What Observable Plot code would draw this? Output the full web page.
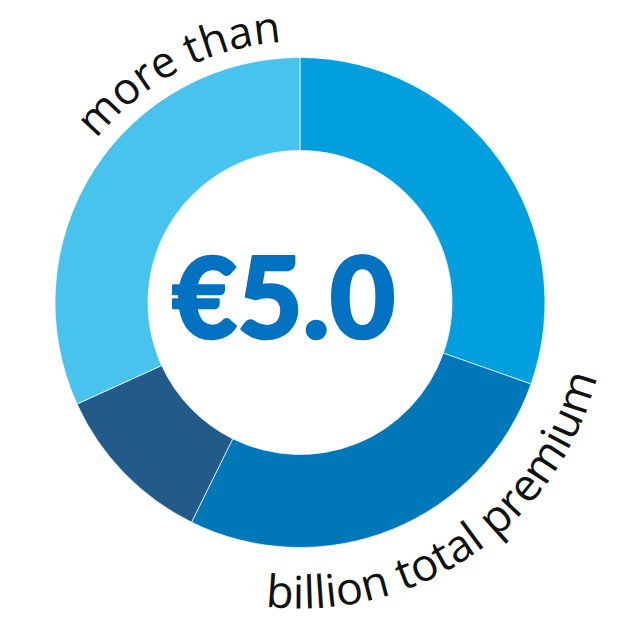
<!DOCTYPE html>
<html>
<head>
<meta charset="utf-8">
<script src="https://cdn.jsdelivr.net/npm/d3@7"></script>
<script src="https://cdn.jsdelivr.net/npm/@observablehq/plot@0.6"></script>
<style>
  html, body { margin: 0; padding: 0; background: #ffffff; }
  #chart { width: 620px; height: 617px; }
</style>
</head>
<body>
<div id="chart"></div>
<script>
// ---- data ----
const segments = ["Segment 1", "Segment 2", "Segment 3", "Segment 4"];
const shares = [30.4, 26.9, 10.9, 31.8];
const segmentColors = ["#029fdf", "#0077b9", "#225b8a", "#48c3ee"];
const centerLabel = ["€5.0"];
const topLabel = ["more than"];
const bottomLabel = ["billion total premium"];

// ---- layout (1 data unit = 1 px) ----
const INNER = 152, OUTER = 245;
const TOP_R = 261, BOTTOM_R = 306;

const data = segments.map((segment, i) => ({segment, share: shares[i]}));
const deg = Math.PI / 180;

function donutMark(index, scales) {
  const {x, y} = scales;
  const color = scales.color || (d => segmentColors[segments.indexOf(d)]);
  const cx = x(0), cy = y(0);
  const r0 = Math.abs(x(INNER) - x(0)), r1 = Math.abs(x(OUTER) - x(0));
  const arcs = d3.pie().sort(null).value(d => d.share)(data);
  const arc = d3.arc().innerRadius(r0).outerRadius(r1);
  const g = d3.create("svg:g").attr("transform", `translate(${cx},${cy})`);
  g.selectAll("path").data(arcs).join("path")
    .attr("d", arc)
    .attr("fill", d => color(d.data.segment))
    .attr("stroke", "#ffffff")
    .attr("stroke-width", 0.7);
  return g.node();
}

function curvedText(label, radius, a0, a1, sweep, anchor, size, id) {
  return function(index, scales) {
    const {x, y} = scales;
    const cx = x(0), cy = y(0);
    const r = Math.abs(x(radius) - x(0));
    const p = a => [cx + r * Math.sin(a * deg), cy - r * Math.cos(a * deg)];
    const [x0, y0] = p(a0), [x1, y1] = p(a1);
    const g = d3.create("svg:g");
    g.append("path").attr("id", id)
      .attr("d", `M${x0},${y0} A${r},${r} 0 0 ${sweep} ${x1},${y1}`)
      .attr("fill", "none");
    g.append("text")
      .attr("font-family", "'Open Sans', 'Noto Sans', sans-serif")
      .attr("font-size", size)
      .attr("fill", "#111111")
      .append("textPath")
      .attr("href", "#" + id)
      .attr("startOffset", anchor === "end" ? "100%" : "0%")
      .attr("text-anchor", anchor)
      .text(label[0]);
    return g.node();
  };
}

const chart = Plot.plot({
  width: 620,
  height: 617,
  margin: 0,
  x: {domain: [-300, 320], range: [0, 620], axis: null},
  y: {domain: [-302.5, 314.5], range: [0, 617], axis: null},
  color: {domain: segments, range: segmentColors},
  style: {background: "#ffffff", overflow: "visible"},
  marks: [
    Plot.dot(data, {x: 0, y: 0, fill: "segment", r: 0}),
    donutMark,
    Plot.text(centerLabel, {
      x: -17, y: 0, text: d => d,
      fontSize: 113, fontWeight: 900, fontFamily: "Lato, sans-serif",
      fill: "#0072c1", stroke: "#0072c1", strokeWidth: 2.5,
      textAnchor: "middle", dy: -1
    }),
    curvedText(topLabel, TOP_R, -80, -4, 1, "end", 44, "topArc"),
    curvedText(bottomLabel, BOTTOM_R, 186.5, 60, 0, "start", 45, "bottomArc")
  ]
});
document.getElementById("chart").appendChild(chart);
</script>
</body>
</html>
